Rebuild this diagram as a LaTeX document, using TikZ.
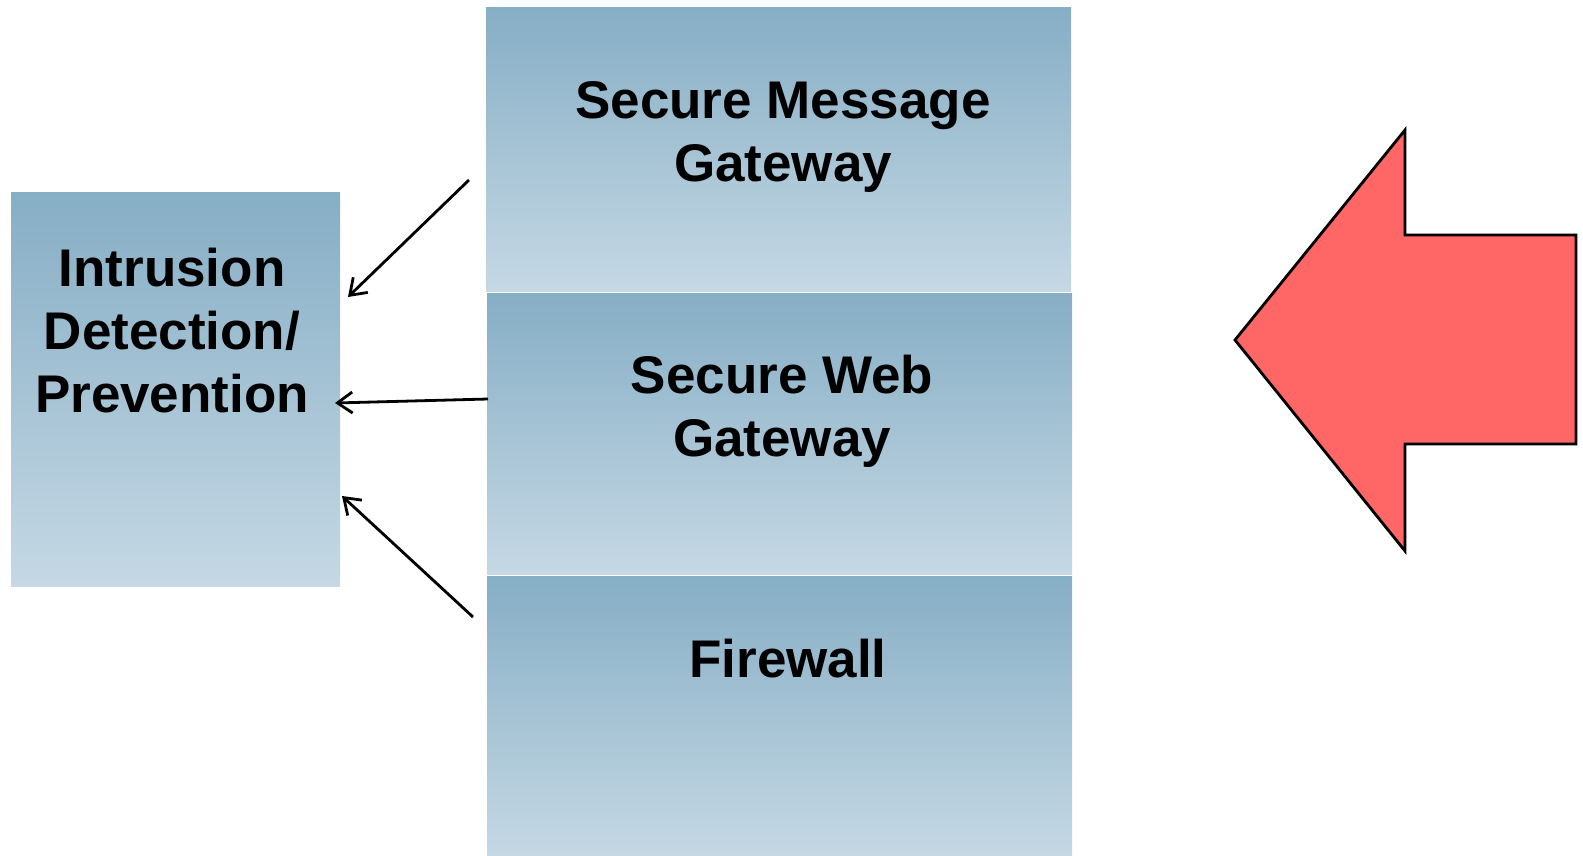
\documentclass[tikz,border=0pt]{standalone}
\usepackage{fontspec}
\setmainfont{Liberation Sans}
\usetikzlibrary{arrows.meta}
\definecolor{boxtop}{HTML}{86AEC5}
\definecolor{boxbot}{HTML}{C5D8E4}
\definecolor{redarrow}{HTML}{FF6666}
\begin{document}
\begin{tikzpicture}[x=1pt,y=-1pt,
  box/.style={rectangle, inner sep=0pt, top color=boxtop, bottom color=boxbot, draw=none},
  lbl/.style={align=center, font=\fontsize{53}{63}\selectfont\bfseries, inner sep=0pt},
  conn/.style={line width=2.8pt, -{Straight Barb[length=15pt,width=21pt,line width=2.8pt]}}]
\useasboundingbox (0,0) rectangle (1583,856);
% boxes
\node[box, minimum width=329pt, minimum height=393pt] (ids) at (175.5,389.5) {};
\node[box, minimum width=585pt, minimum height=283pt] (smg) at (778.5,149.5) {};
\node[box, minimum width=585pt, minimum height=281pt] (swg) at (779.5,433.5) {};
\node[box, minimum width=585pt, minimum height=280pt] (fw) at (779.5,716.5) {};
% labels
\node[lbl] (idsl) at (172,331) {Intrusion\\Detection/\\Prevention};
\node[lbl] (smgl) at (783,137) {Secure Message\\Gateway};
\node[lbl] (swgl) at (782,411) {Secure Web\\Gateway};
\node[lbl] (fwl) at (788,659) {Firewall};
% connector ends
\coordinate (a1s) at (469,180);
\coordinate (a1e) at (348,297);
\coordinate (a2s) at (488,399);
\coordinate (a2e) at (335,403);
\coordinate (a3s) at (473,617);
\coordinate (a3e) at (342,496);
\draw[conn] (a1s) -- (a1e);
\draw[conn] (a2s) -- (a2e);
\draw[conn] (a3s) -- (a3e);
% big red arrow
\coordinate (tip) at (1235,340);
\coordinate (ht) at (1405,130);
\coordinate (hb) at (1405,551);
\draw[line width=2.8pt, fill=redarrow, line join=miter]
  (tip) -- (ht) -- (1405,235) -- (1576,235) -- (1576,444) -- (1405,444) -- (hb) -- cycle;
\end{tikzpicture}
\end{document}
